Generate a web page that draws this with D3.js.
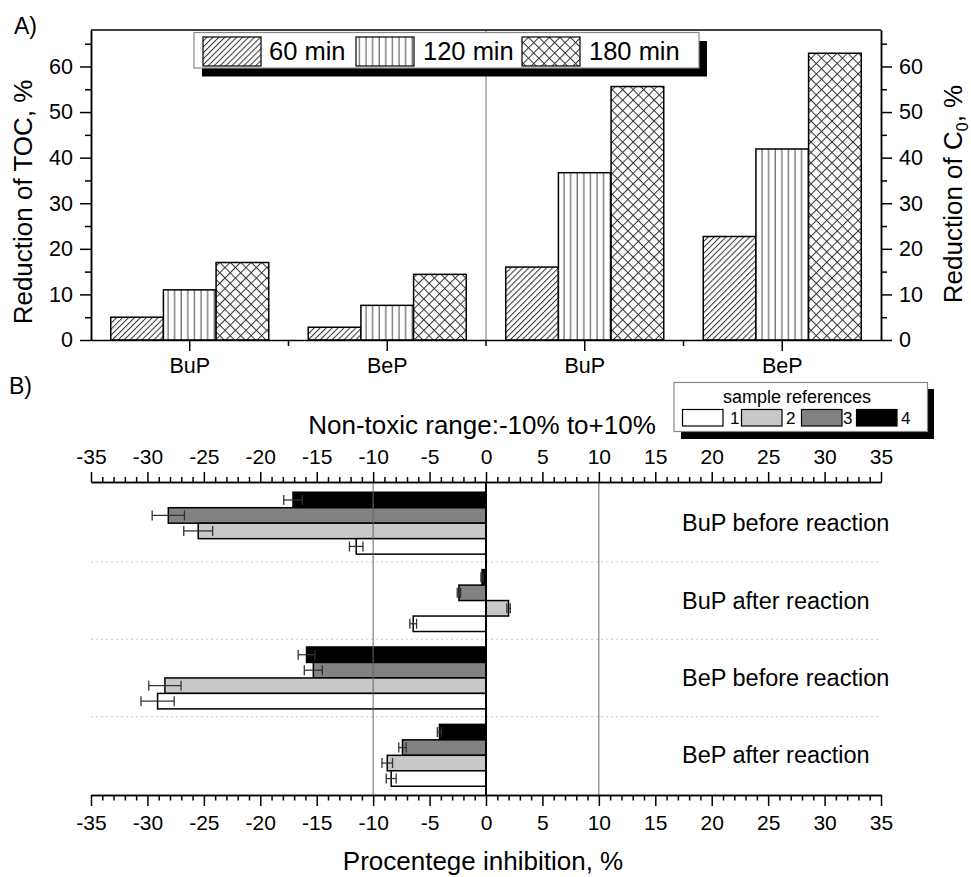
<!DOCTYPE html>
<html>
<head>
<meta charset="utf-8">
<script src="https://cdn.jsdelivr.net/npm/d3@7"></script>
<style>
  html, body { margin: 0; padding: 0; background: #fff; }
  svg { display: block; font-family: "Liberation Sans", Arial, sans-serif; }
</style>
</head>
<body>
<script>
// ---------- Panel A data ----------
const groupsA = ["BuP (TOC)", "BeP (TOC)", "BuP (C0)", "BeP (C0)"];
const groupLabelsA = ["BuP", "BeP", "BuP", "BeP"];
const seriesNamesA = ["60 min", "120 min", "180 min"];
const values60 = [5.0, 2.8, 16.0, 22.7];
const values120 = [11.0, 7.6, 36.7, 41.9];
const values180 = [17.0, 14.4, 55.6, 62.9];
const yTicksA = [0, 10, 20, 30, 40, 50, 60];

// ---------- Panel B data ----------
const groupsB = ["BuP before reaction", "BuP after reaction", "BeP before reaction", "BeP after reaction"];
const refNames = ["1", "2", "3", "4"];
const ref1 = [-11.5, -6.45, -29.1, -8.4];
const err1 = [0.6, 0.3, 1.47, 0.44];
const ref2 = [-25.5, 2.0, -28.45, -8.75];
const err2 = [1.28, 0.15, 1.43, 0.47];
const ref3 = [-28.15, -2.4, -15.3, -7.4];
const err3 = [1.43, 0.15, 0.8, 0.33];
const ref4 = [-17.1, -0.35, -15.9, -4.13];
const err4 = [0.82, 0.1, 0.74, 0.18];
const xTicksB = [-35, -30, -25, -20, -15, -10, -5, 0, 5, 10, 15, 20, 25, 30, 35];
const refLinesB = [-10, 10];

const W = 971, H = 877;
const svg = d3.select("body").append("svg").attr("width", W).attr("height", H);

// ---------- patterns ----------
const defs = svg.append("defs");
function pat(id, size, rot, draw) {
  const p = defs.append("pattern").attr("id", id).attr("patternUnits", "userSpaceOnUse")
    .attr("width", size).attr("height", size);
  if (rot) p.attr("patternTransform", `rotate(${rot})`);
  p.append("rect").attr("width", size).attr("height", size).attr("fill", "#fff");
  draw(p, size);
}
pat("p60", 4.2, 45, (p, s) => p.append("line").attr("x1", 0.5).attr("x2", 0.5).attr("y1", 0).attr("y2", s).attr("stroke", "#333").attr("stroke-width", 1));
pat("p120", 6.6, 0, (p, s) => p.append("line").attr("x1", 3).attr("x2", 3).attr("y1", 0).attr("y2", s).attr("stroke", "#444").attr("stroke-width", 1));
pat("p180", 7.4, 45, (p, s) => {
  p.append("line").attr("x1", 0.5).attr("x2", 0.5).attr("y1", 0).attr("y2", s).attr("stroke", "#333").attr("stroke-width", 1);
  p.append("line").attr("y1", 0.5).attr("y2", 0.5).attr("x1", 0).attr("x2", s).attr("stroke", "#333").attr("stroke-width", 1);
});
const patFill = { "60 min": "url(#p60)", "120 min": "url(#p120)", "180 min": "url(#p180)" };

function styleAxis(g, size) {
  g.selectAll("text").attr("font-family", "'Liberation Sans', Arial, sans-serif").attr("font-size", size).attr("fill", "#000");
  g.selectAll("line, path").attr("stroke", "#000").attr("stroke-width", 1.5);
  g.attr("font-family", null).attr("font-size", null);
}

// ================= PANEL A =================
const xA = d3.scaleBand().domain(groupsA).range([91, 881]).paddingInner(0).paddingOuter(0);
const xSubA = d3.scaleBand().domain(seriesNamesA).range([0, xA.bandwidth()]).paddingInner(0).paddingOuter(0.375);
const yA = d3.scaleLinear().domain([0, 68]).range([340, 30]);
const dataA = groupsA.map((g, i) => ({ g, vals: [values60[i], values120[i], values180[i]] }));

// separator between TOC and C0 parts
svg.append("line").attr("x1", xA(groupsA[2])).attr("x2", xA(groupsA[2]))
  .attr("y1", yA(68)).attr("y2", yA(0)).attr("stroke", "#777").attr("stroke-width", 1);

const gA = svg.append("g");
dataA.forEach(d => {
  d.vals.forEach((v, j) => {
    const s = seriesNamesA[j];
    gA.append("rect")
      .attr("x", xA(d.g) + xSubA(s)).attr("width", xSubA.bandwidth())
      .attr("y", yA(v)).attr("height", yA(0) - yA(v))
      .attr("fill", patFill[s]).attr("stroke", "#000").attr("stroke-width", 1.5);
  });
});

// axes A
const minorA = d3.range(5, 70, 10);
const gL = svg.append("g").attr("transform", "translate(91,0)")
  .call(d3.axisLeft(yA).tickValues(yTicksA).tickSize(11).tickSizeOuter(0).tickPadding(7));
styleAxis(gL, 21.5);
const gLm = svg.append("g").attr("transform", "translate(91,0)")
  .call(d3.axisLeft(yA).tickValues(minorA).tickSize(6).tickSizeOuter(0).tickFormat(""));
styleAxis(gLm, 20);
const gR = svg.append("g").attr("transform", "translate(881,0)")
  .call(d3.axisRight(yA).tickValues(yTicksA).tickSize(11).tickSizeOuter(0).tickPadding(7));
styleAxis(gR, 21.5);
const gRm = svg.append("g").attr("transform", "translate(881,0)")
  .call(d3.axisRight(yA).tickValues(minorA).tickSize(6).tickSizeOuter(0).tickFormat(""));
styleAxis(gRm, 20);
const gB = svg.append("g").attr("transform", `translate(0,${yA(0)})`)
  .call(d3.axisBottom(xA).tickSize(11).tickSizeOuter(0).tickPadding(7).tickFormat((d, i) => groupLabelsA[i]));
styleAxis(gB, 21.5);
// boundary minor ticks
groupsA.slice(1).forEach(g => {
  svg.append("line").attr("x1", xA(g)).attr("x2", xA(g)).attr("y1", yA(0)).attr("y2", yA(0) + 6)
    .attr("stroke", "#000").attr("stroke-width", 1.5);
});
// top border
svg.append("line").attr("x1", 91).attr("x2", 881).attr("y1", yA(68)).attr("y2", yA(68)).attr("stroke", "#000").attr("stroke-width", 1.5);

// titles A
svg.append("text").attr("transform", "translate(32,202) rotate(-90)").attr("text-anchor", "middle")
  .attr("font-size", 26).text("Reduction of TOC, %");
const rt = svg.append("text").attr("transform", "translate(962,194) rotate(-90)").attr("text-anchor", "middle")
  .attr("font-size", 26);
rt.append("tspan").text("Reduction of C");
rt.append("tspan").attr("font-size", 16).attr("dy", 6).text("0");
rt.append("tspan").attr("dy", -6).text(", %");
svg.append("text").attr("x", 14).attr("y", 34).attr("font-size", 23).text("A)");

// legend A
const legA = svg.append("g");
legA.append("rect").attr("x", 202).attr("y", 41).attr("width", 505).attr("height", 35.5).attr("fill", "#000");
legA.append("rect").attr("x", 194).attr("y", 32.5).attr("width", 505).attr("height", 35.5).attr("fill", "#fff").attr("stroke", "#888").attr("stroke-width", 1.2);
const legAx = [203, 356, 522];
const legAtx = [269, 423, 589];
seriesNamesA.forEach((s, i) => {
  legA.append("rect").attr("x", legAx[i]).attr("y", 37).attr("width", 58).attr("height", 29)
    .attr("fill", patFill[s]).attr("stroke", "#000").attr("stroke-width", 1.2);
  legA.append("text").attr("x", legAtx[i]).attr("y", 60).attr("font-size", 25.5).text(s);
});

// ================= PANEL B =================
const xB = d3.scaleLinear().domain([-35, 35]).range([91, 881]);
const yB = d3.scaleBand().domain(groupsB).range([484.5, 794]).paddingInner(0).paddingOuter(0);
const subOrder = ["4", "3", "2", "1"];
const ySubB = d3.scaleBand().domain(subOrder).range([0, yB.bandwidth()]).paddingInner(0).paddingOuter(0.5);
const refColor = { "1": "#ffffff", "2": "#c8c8c8", "3": "#828282", "4": "#000000" };
const refVals = { "1": ref1, "2": ref2, "3": ref3, "4": ref4 };
const refErrs = { "1": err1, "2": err2, "3": err3, "4": err4 };

// dotted separators
groupsB.slice(1).forEach(g => {
  svg.append("line").attr("x1", 91).attr("x2", 881).attr("y1", yB(g)).attr("y2", yB(g))
    .attr("stroke", "#c8c8c8").attr("stroke-width", 1).attr("stroke-dasharray", "2,3");
});

const gBars = svg.append("g");
groupsB.forEach((g, i) => {
  subOrder.forEach(r => {
    const v = refVals[r][i];
    const y0 = yB(g) + ySubB(r);
    gBars.append("rect")
      .attr("x", Math.min(xB(0), xB(v))).attr("width", Math.abs(xB(v) - xB(0)))
      .attr("y", y0).attr("height", ySubB.bandwidth())
      .attr("fill", refColor[r]).attr("stroke", "#000").attr("stroke-width", 1.5);
  });
});
// error bars
groupsB.forEach((g, i) => {
  subOrder.forEach(r => {
    const v = refVals[r][i], e = refErrs[r][i];
    const yc = yB(g) + ySubB(r) + ySubB.bandwidth() / 2;
    const c = "#333";
    gBars.append("line").attr("x1", xB(v - e)).attr("x2", xB(v + e)).attr("y1", yc).attr("y2", yc).attr("stroke", c).attr("stroke-width", 1.3);
    [v - e, v + e].forEach(xv => gBars.append("line").attr("x1", xB(xv)).attr("x2", xB(xv)).attr("y1", yc - 5).attr("y2", yc + 5).attr("stroke", c).attr("stroke-width", 1.3));
  });
});

// reference lines
refLinesB.forEach(v => {
  svg.append("line").attr("x1", xB(v)).attr("x2", xB(v)).attr("y1", 482).attr("y2", 795)
    .attr("stroke", "#666").attr("stroke-width", 1);
});
svg.append("line").attr("x1", xB(0)).attr("x2", xB(0)).attr("y1", 482).attr("y2", 795)
  .attr("stroke", "#000").attr("stroke-width", 2);

// axes B
const minorB = d3.range(-35, 36, 1).filter(d => d % 5 !== 0);
const gTop = svg.append("g").attr("transform", "translate(0,482)")
  .call(d3.axisTop(xB).tickValues(xTicksB).tickSize(10).tickSizeOuter(0).tickPadding(8).tickFormat(d => String(d)));
styleAxis(gTop, 21);
const gTopM = svg.append("g").attr("transform", "translate(0,482)")
  .call(d3.axisTop(xB).tickValues(minorB).tickSize(5).tickSizeOuter(0).tickFormat(""));
styleAxis(gTopM, 20);
const gBot = svg.append("g").attr("transform", "translate(0,795)")
  .call(d3.axisBottom(xB).tickValues(xTicksB).tickSize(11).tickSizeOuter(0).tickPadding(9).tickFormat(d => String(d)));
styleAxis(gBot, 21);
const gBotM = svg.append("g").attr("transform", "translate(0,795)")
  .call(d3.axisBottom(xB).tickValues(minorB).tickSize(5.5).tickSizeOuter(0).tickFormat(""));
styleAxis(gBotM, 20);

// labels B
groupsB.forEach(g => {
  svg.append("text").attr("x", 682).attr("y", yB(g) + yB.bandwidth() / 2 + 8).attr("font-size", 23.5).text(g);
});
svg.append("text").attr("x", 482).attr("y", 434).attr("text-anchor", "middle").attr("font-size", 26).text("Non-toxic range:-10% to+10%");
svg.append("text").attr("x", 483).attr("y", 870).attr("text-anchor", "middle").attr("font-size", 26).text("Procentege inhibition, %");
svg.append("text").attr("x", 9).attr("y", 394).attr("font-size", 23).text("B)");

// legend B
const legB = svg.append("g");
legB.append("rect").attr("x", 681).attr("y", 389).attr("width", 253).attr("height", 50).attr("fill", "#000");
legB.append("rect").attr("x", 674).attr("y", 382.5).attr("width", 253.5).attr("height", 49).attr("fill", "#fff").attr("stroke", "#888").attr("stroke-width", 1.2);
legB.append("text").attr("x", 797).attr("y", 403).attr("text-anchor", "middle").attr("font-size", 18).text("sample references");
const legBx = [682.5, 741.5, 801.5, 856.5];
const legBtx = [730, 786, 843, 901];
refNames.forEach((r, i) => {
  legB.append("rect").attr("x", legBx[i]).attr("y", 409.5).attr("width", 40.5).attr("height", 16.5)
    .attr("fill", refColor[r]).attr("stroke", "#000").attr("stroke-width", 1.2);
});
refNames.forEach((r, i) => {
  legB.append("text").attr("x", legBtx[i]).attr("y", 424).attr("font-size", 17).text(r);
});
</script>
</body>
</html>
